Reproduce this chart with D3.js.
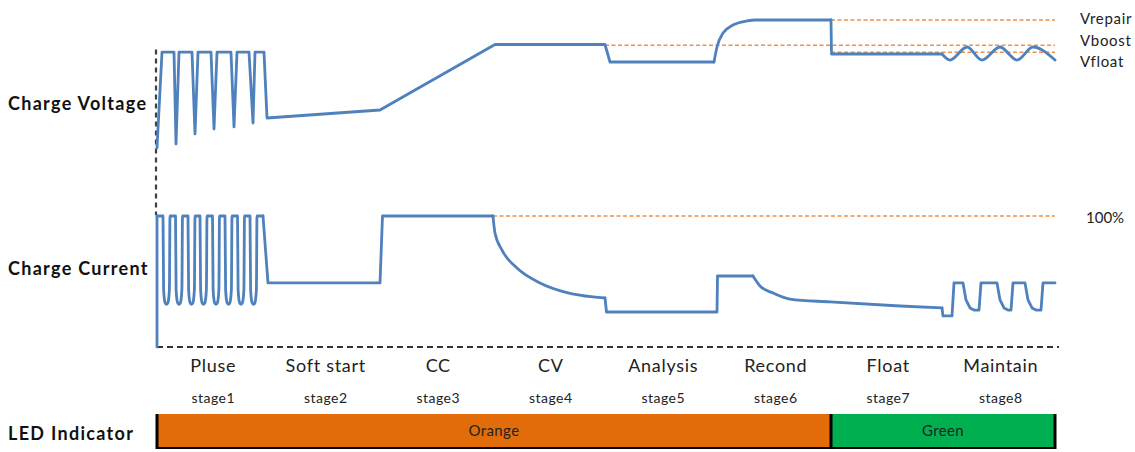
<!DOCTYPE html>
<html><head><meta charset="utf-8">
<script src="https://cdn.jsdelivr.net/npm/d3@7"></script>
<style>
body{margin:0;background:#fff;}
svg{display:block;font-family:Lato,"Open Sans",sans-serif;}
</style></head>
<body>
<svg id="c" width="1135" height="452"></svg>
<script>
// ---- data (time units: 0..900 over 8 stages; voltage & current in %)
const stageNames = ["Pluse","Soft start","CC","CV","Analysis","Recond","Float","Maintain"];
const stageLabels = ["stage1","stage2","stage3","stage4","stage5","stage6","stage7","stage8"];
const ledSegments = [["Orange",0,674],["Green",674,898]];
const ledColors = {Orange:"#E36C0A",Green:"#00B050"};
const rowLabels = ["Charge Voltage","Charge Current","LED Indicator"];

// voltage pieces [t, v]
const voltagePulse = [[0,8.6],[5,77],[17,77],[19,11.4],[22,77],[35,77],[38,18.6],[41,77],[54,77],[57,22.1],[60,77],[74,77],[77,23.6],[80,77],[92,77],[96,26.4],[98,77],[107,77],[110,30],[223,35.7],[338,82.5],[448,82.5],[453,70],[557,70]];
const voltageRecond = [[557,70],[560,80.7],[566,90.7],[576,96.4],[590,99.3],[598,100],[674,100]];
const voltageFloat = [[674,100],[674.5,75.7],[785,75.7]];
const voltageMaintain = [[785,75.7],[793,71.4],[810,80.7],[825,71.4],[843,80.7],[860,71.4],[876,80.7],[898,71.4]];
const voltageRefs = [["Vrepair",100,674],["Vboost",82,448],["Vfloat",77,674]];

// current pieces [t, i]
const currentStart = [[0,0],[0,100]];
const currentPulse = [[0,100],
 [6,100],[6.6,44],[8,34],[9.5,32.5],[11,34],[12.4,44],[13,100],
 [18.5,100],[19.1,44],[20.5,34],[22,32.5],[23.5,34],[24.9,44],[25.5,100],
 [31,100],[31.6,44],[33,34],[34.5,32.5],[36,34],[37.4,44],[38,100],
 [43,100],[43.6,44],[45,34],[46.5,32.5],[48,34],[49.4,44],[50,100],
 [55.5,100],[56.1,44],[57.5,34],[59,32.5],[60.5,34],[61.9,44],[62.5,100],
 [68,100],[68.6,44],[70,34],[71.5,32.5],[73,34],[74.4,44],[75,100],
 [80.5,100],[81.1,44],[82.5,34],[84,32.5],[85.5,34],[86.9,44],[87.5,100],
 [93,100],[93.6,44],[95,34],[96.5,32.5],[98,34],[99.4,44],[100,100],[106,100]];
const currentSoftCC = [[106,100],[111,48.9],[223,48.9],[225.5,100],[336,100]];
const currentCV = [[336,100],[338,87],[345,74],[360,60.3],[383,48.9],[410,41.5],[436,38.2],[448,37.4]];
const currentAnalysis = [[448,37.4],[449.5,26.7],[560,26.7],[560.5,54.2],[596,54.2]];
const currentRecond = [[596,54.2],[603,46.6],[616,41.2],[633,36.6],[673,34.4],[743,31.3],[785,29.8]];
const currentMaintain = [[785,29.8],[786,23.7],[795,23.7],[797,48.9],[806,48.9],[809,35.9],[813,29.8],[817,28.2],[822,28.2],[824,48.9],[840,48.9],[843,35.9],[847,29.8],[851,28.2],[854,28.2],[856,48.9],[868,48.9],[871,35.9],[875,29.8],[879,28.2],[884,28.2],[886,48.9],[898,48.9]];
const currentRefs = [["100%",100,336]];

// ---- scales
const svg = d3.select("#c");
const x = d3.scaleLinear().domain([0,900]).range([157,1057]);
const yV = d3.scaleLinear().domain([0,100]).range([160,20]);
const yI = d3.scaleLinear().domain([0,100]).range([347,216]);
const stageX = d3.scaleBand().domain(stageLabels).range([x(0),x(900)]);

const blue = "#4F81BD";
const refColor = "#F0904A";

// axes
svg.append("line").attr("x1",x(0)-1).attr("x2",x(0)-1).attr("y1",yV(79)).attr("y2",yI(100)-1)
  .attr("stroke","#404040").attr("stroke-width",2.2).attr("stroke-dasharray","5,4");
svg.append("line").attr("x1",x(0)).attr("x2",x(902)).attr("y1",yI(0)).attr("y2",yI(0))
  .attr("stroke","#333").attr("stroke-width",2).attr("stroke-dasharray","6,4");

// reference lines
const maxT = 898;
svg.selectAll(".vref").data(voltageRefs).join("line")
  .attr("x1",d=>x(d[2])).attr("x2",x(maxT)).attr("y1",d=>yV(d[1])).attr("y2",d=>yV(d[1]))
  .attr("stroke",refColor).attr("stroke-width",1.6).attr("stroke-dasharray","4,2.5");
svg.selectAll(".iref").data(currentRefs).join("line")
  .attr("x1",d=>x(d[2])).attr("x2",x(maxT)).attr("y1",d=>yI(d[1])).attr("y2",d=>yI(d[1]))
  .attr("stroke",refColor).attr("stroke-width",1.6).attr("stroke-dasharray","4,2.5");

function draw(data, ys, curve){
  const g = d3.line().x(d=>x(d[0])).y(d=>ys(d[1])).curve(curve);
  svg.append("path").attr("d",g(data)).attr("fill","none").attr("stroke",blue)
    .attr("stroke-width",2.8).attr("stroke-linejoin","round").attr("stroke-linecap","round");
}
draw(voltagePulse,yV,d3.curveLinear);
draw(voltageRecond,yV,d3.curveMonotoneX);
draw(voltageFloat,yV,d3.curveLinear);
draw(voltageMaintain,yV,d3.curveMonotoneX);
draw(currentStart,yI,d3.curveLinear);
draw(currentPulse,yI,d3.curveMonotoneX);
draw(currentSoftCC,yI,d3.curveLinear);
draw(currentCV,yI,d3.curveMonotoneX);
draw(currentAnalysis,yI,d3.curveLinear);
draw(currentRecond,yI,d3.curveMonotoneX);
draw(currentMaintain,yI,d3.curveLinear);

// right labels
svg.selectAll(".vlab").data(voltageRefs).join("text")
  .attr("x",1080).attr("y",(d,i)=>[19,41,62][i]).attr("dy","0.35em")
  .attr("font-size",15).attr("letter-spacing",0.7).attr("fill","#222").text(d=>d[0]);
svg.selectAll(".ilab").data(currentRefs).join("text")
  .attr("x",1086).attr("y",yI(100)+2).attr("dy","0.35em")
  .attr("font-size",15).attr("fill","#222").text(d=>d[0]);

// row labels
svg.selectAll(".row").data(rowLabels).join("text")
  .attr("x",8).attr("y",(d,i)=>[104,269,434][i]).attr("dy","0.35em")
  .attr("font-size",18).attr("letter-spacing",1.3).attr("font-weight","bold").attr("fill","#111").text(d=>d);

// stage labels
svg.selectAll(".sname").data(stageNames).join("text")
  .attr("x",(d,i)=>stageX(stageLabels[i])+stageX.bandwidth()/2).attr("y",366).attr("dy","0.35em")
  .attr("text-anchor","middle").attr("font-size",18).attr("letter-spacing",0.7).attr("fill","#222").text(d=>d);
svg.selectAll(".slab").data(stageLabels).join("text")
  .attr("x",d=>stageX(d)+stageX.bandwidth()/2).attr("y",398).attr("dy","0.35em")
  .attr("text-anchor","middle").attr("font-size",14).attr("letter-spacing",0.5).attr("fill","#222").text(d=>d);

// LED bar
const barTop = 414, barBot = 448;
svg.selectAll(".led").data(ledSegments).join("rect")
  .attr("x",d=>x(d[1])).attr("y",barTop).attr("width",d=>x(d[2])-x(d[1])).attr("height",barBot-barTop)
  .attr("fill",d=>ledColors[d[0]]);
svg.append("line").attr("x1",x(0)).attr("x2",x(maxT)+1).attr("y1",barBot).attr("y2",barBot).attr("stroke","#000").attr("stroke-width",2);
svg.selectAll(".sep").data([0,674,maxT]).join("line")
  .attr("x1",d=>x(d)).attr("x2",d=>x(d)).attr("y1",barTop).attr("y2",barBot+1)
  .attr("stroke","#000").attr("stroke-width",3);
svg.selectAll(".ledt").data(ledSegments).join("text")
  .attr("x",d=>(x(d[1])+x(d[2]))/2).attr("y",(barTop+barBot)/2).attr("dy","0.35em")
  .attr("text-anchor","middle").attr("font-size",15).attr("letter-spacing",0.4).attr("fill","#222").text(d=>d[0]);
</script>
</body></html>
